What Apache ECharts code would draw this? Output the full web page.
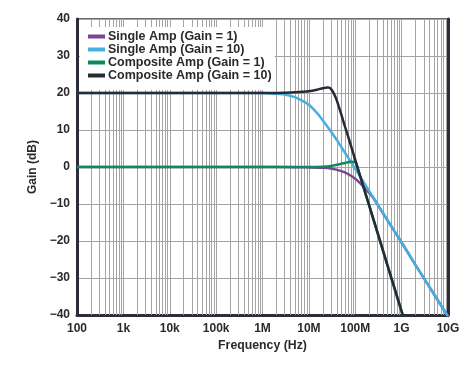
<!DOCTYPE html>
<html>
<head>
<meta charset="utf-8">
<script src="https://cdn.jsdelivr.net/npm/echarts@6/dist/echarts.min.js"></script>
<style>
html,body{margin:0;padding:0;background:#fff;}
#chart{width:471px;height:366px;}
</style>
</head>
<body>
<div id="chart"></div>
<script>
// ---- data ----
const seriesNames = ['Single Amp (Gain = 1)', 'Single Amp (Gain = 10)', 'Composite Amp (Gain = 1)', 'Composite Amp (Gain = 10)'];

const singleG1Freq = [100, 1e6, 5e6, 1e7, 2e7, 3e7, 5e7, 7e7, 1e8, 1.3e8, 1.6e8, 2e8, 2.5e8, 3e8, 5e8, 1e9, 2e9, 5e9, 1e10];
const singleG1Gain = [0, 0, -0.05, -0.1, -0.2, -0.4, -1.1, -1.9, -3.2, -4.5, -5.7, -7.0, -8.5, -10.1, -14.5, -20.4, -26.5, -34.4, -40.4];

const singleG10Freq = [100, 1e6, 2e6, 3e6, 5e6, 7e6, 1e7, 1.5e7, 2e7, 3e7, 4e7, 5e7, 7e7, 1e8, 2e8, 3e8, 5e8, 1e9, 2e9, 5e9, 1e10];
const singleG10Gain = [20, 20, 19.8, 19.6, 18.9, 18.0, 16.8, 14.6, 12.6, 9.6, 7.3, 5.4, 2.6, -0.5, -6.5, -10.0, -14.4, -20.4, -26.5, -34.4, -40.4];

const compG1Freq = [100, 1e6, 1e7, 2e7, 3e7, 4e7, 5e7, 6e7, 7e7, 8.5e7, 9.5e7, 1.05e8, 1.15e8, 1.5e8, 2e8, 3e8, 5e8, 7e8, 1e9, 1.1e9];
const compG1Gain = [0, 0, 0, 0.1, 0.3, 0.6, 0.9, 1.1, 1.3, 1.4, 1.3, 1.0, -0.6, -5.4, -10.5, -17.7, -26.8, -32.8, -39.1, -40.8];

const compG10Freq = [100, 1e6, 3e6, 5e6, 1e7, 1.5e7, 2e7, 2.5e7, 2.8e7, 3.2e7, 3.6e7, 4e7, 5e7, 6e7, 7e7, 8e7, 9e7, 1e8, 1.2e8, 1.5e8, 2e8, 3e8, 5e8, 7e8, 1e9, 1.1e9];
const compG10Gain = [20, 20, 20.1, 20.2, 20.5, 20.9, 21.3, 21.5, 21.4, 20.6, 19.4, 18.0, 14.2, 10.9, 8.3, 5.9, 3.8, 1.9, -1.4, -5.3, -10.4, -17.6, -26.7, -32.7, -39.0, -40.7];

const xTickLabels = ['100', '1k', '10k', '100k', '1M', '10M', '100M', '1G', '10G'];
const yTickValues = [-40, -30, -20, -10, 0, 10, 20, 30, 40];

const colors = ['#7b4593', '#45b0e0', '#0f8a5c', '#262b35'];

// minor vertical grid (2..9 of each decade)
const minorGrid = [];
for (let d = 2; d < 10; d++) {
  for (let k = 2; k <= 9; k++) minorGrid.push({ xAxis: k * Math.pow(10, d) });
}

function pairs(f, g) { return f.map((v, i) => [v, g[i]]); }

const font = "'Liberation Sans', Arial, Helvetica, sans-serif";
const chart = echarts.init(document.getElementById('chart'), null, { renderer: 'canvas' });

const lineSeries = [
  [singleG1Freq, singleG1Gain],
  [singleG10Freq, singleG10Gain],
  [compG1Freq, compG1Gain],
  [compG10Freq, compG10Gain]
].map((s, i) => ({
  name: seriesNames[i],
  type: 'line',
  data: pairs(s[0], s[1]),
  showSymbol: false,
  smooth: 0.25,
  z: 3 + i,
  lineStyle: { color: colors[i], width: 2.5 },
  itemStyle: { color: colors[i] },
  clip: true
}));

chart.setOption({
  animation: false,
  backgroundColor: '#fff',
  grid: { left: 77, right: 23, top: 19, bottom: 51, show: true, borderColor: '#3a3d45', borderWidth: 1.5, backgroundColor: 'transparent' },
  legend: {
    data: seriesNames.map((n, i) => ({ name: n, icon: 'rect' })),
    orient: 'vertical',
    left: 80,
    top: 27,
    padding: [3, 3, 8, 8],
    itemWidth: 17,
    itemHeight: 4,
    itemGap: 0,
    backgroundColor: '#fff',
    textStyle: { fontFamily: font, fontWeight: 'bold', fontSize: 12.5, color: '#2a2a2a', lineHeight: 12, padding: [0, 0, 0, -2] },
    selectedMode: false
  },
  xAxis: {
    type: 'log',
    logBase: 10,
    min: 100,
    max: 1e10,
    interval: 1,
    splitNumber: 8,
    name: 'Frequency (Hz)',
    nameLocation: 'middle',
    nameGap: 21,
    nameTextStyle: { fontFamily: font, fontWeight: 'bold', fontSize: 12.3, color: '#2a2a2a' },
    axisLine: { show: true, onZero: false, lineStyle: { color: '#2b2e38', width: 3 } },
    axisTick: { show: false },
    axisLabel: {
      fontFamily: font, fontWeight: 'bold', fontSize: 12, color: '#2a2a2a', margin: 8,
      formatter: v => xTickLabels[Math.round(Math.log10(v)) - 2] || ''
    },
    splitLine: { show: true, lineStyle: { color: '#a4a4a4', width: 1 } }
  },
  yAxis: [{
    type: 'value',
    min: -40,
    max: 40,
    interval: 10,
    name: 'Gain (dB)',
    nameLocation: 'middle',
    nameGap: 30,
    nameTextStyle: { fontFamily: font, fontWeight: 'bold', fontSize: 12, color: '#2a2a2a' },
    axisLine: { show: true, onZero: false, lineStyle: { color: '#2b2e38', width: 3 } },
    axisTick: { show: false },
    axisLabel: {
      fontFamily: font, fontWeight: 'bold', fontSize: 12, color: '#2a2a2a', margin: 7,
      formatter: v => yTickValues.includes(v) ? String(v).replace('-', '\u2212') : ''
    },
    splitLine: { show: true, lineStyle: { color: '#a4a4a4', width: 1 } }
  }, {
    type: 'value',
    position: 'right',
    min: -40,
    max: 40,
    interval: 10,
    axisLine: { show: true, lineStyle: { color: '#2b2e38', width: 3 } },
    axisTick: { show: false },
    axisLabel: { show: false },
    splitLine: { show: false }
  }],
  series: [{
    name: 'grid',
    type: 'line',
    data: [],
    z: 1,
    silent: true,
    markLine: {
      silent: true,
      symbol: ['none', 'none'],
      label: { show: false },
      lineStyle: { color: '#a4a4a4', width: 1, type: 'solid' },
      data: minorGrid,
      z: 1
    }
  }].concat(lineSeries)
});
</script>
</body>
</html>
